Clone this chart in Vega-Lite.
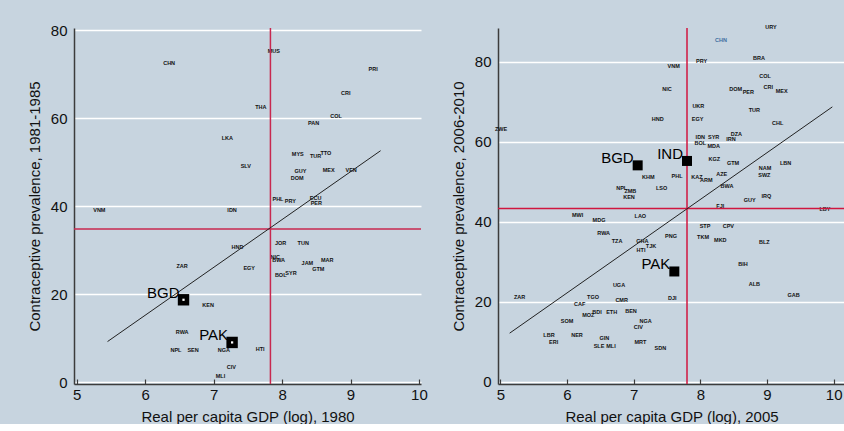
{
"$schema":"https://vega.github.io/schema/vega-lite/v6.json",
"background":"#c7d4df",
"padding":{"left":27,"top":23,"right":0,"bottom":0},
"spacing":23,
"config":{
 "view":{"stroke":null},
 "font":"Liberation Sans",
 "axis":{"labelFont":"Liberation Sans","titleFont":"Liberation Sans","labelFontSize":15,"titleFontSize":15,"titleFontWeight":"normal","labelColor":"#111111","titleColor":"#111111","domainColor":"#3c3c3c","domainWidth":1.5,"tickColor":"#3c3c3c","tickWidth":1.2,"labelFlush":false,"labelOverlap":false,"format":"d"},
 "axisX":{"grid":false,"tickSize":-5,"labelPadding":8,"titlePadding":7},
 "axisY":{"grid":true,"gridColor":"#ffffff","gridWidth":1.5,"gridOpacity":1,"ticks":false,"labelPadding":7,"titlePadding":8}
},
"datasets":{
 "p1":[
  {"c":"MUS","x":7.88,"y":75.2},{"c":"CHN","x":6.35,"y":72.5},{"c":"PRI","x":9.33,"y":71.2},{"c":"CRI","x":8.93,"y":65.8},
  {"c":"THA","x":7.69,"y":62.5},{"c":"COL","x":8.79,"y":60.6},{"c":"PAN","x":8.46,"y":58.8},{"c":"LKA","x":7.2,"y":55.5},
  {"c":"SLV","x":7.47,"y":49.2},{"c":"MYS","x":8.23,"y":51.9},{"c":"TUR","x":8.49,"y":51.3},{"c":"TTO","x":8.64,"y":52.0},
  {"c":"GUY","x":8.27,"y":47.9},{"c":"DOM","x":8.22,"y":46.5},{"c":"MEX","x":8.68,"y":48.1},{"c":"VEN","x":9.01,"y":48.2},
  {"c":"PHL","x":7.94,"y":41.6},{"c":"PRY","x":8.12,"y":41.2},{"c":"ECU","x":8.49,"y":41.8},{"c":"PER","x":8.5,"y":40.7},
  {"c":"VNM","x":5.33,"y":39.1},{"c":"IDN","x":7.27,"y":39.1},{"c":"HND","x":7.35,"y":30.8},{"c":"JOR","x":7.98,"y":31.6},
  {"c":"TUN","x":8.31,"y":31.6},{"c":"NIC","x":7.9,"y":28.5},{"c":"BWA","x":7.95,"y":27.7},{"c":"JAM","x":8.37,"y":27.1},
  {"c":"MAR","x":8.66,"y":27.8},{"c":"GTM","x":8.53,"y":25.6},{"c":"BOL","x":7.98,"y":24.3},{"c":"SYR","x":8.13,"y":24.9},
  {"c":"EGY","x":7.52,"y":26.0},{"c":"ZAR","x":6.54,"y":26.3},{"c":"KEN","x":6.92,"y":17.5},{"c":"RWA","x":6.54,"y":11.4},
  {"c":"NPL","x":6.45,"y":7.3},{"c":"SEN","x":6.7,"y":7.3},{"c":"NGA","x":7.15,"y":7.3},{"c":"HTI","x":7.68,"y":7.4},
  {"c":"CIV","x":7.26,"y":3.4},{"c":"MLI","x":7.1,"y":1.4}
 ],
 "h1":[{"c":"BGD","x":6.56,"y":18.7},{"c":"PAK","x":7.27,"y":9.0}],
 "m1":[{"x":7.83,"y":34.8}],
 "f1":[{"x":5.45,"y":9.2},{"x":9.44,"y":52.6}],
 "p2":[
  {"c":"URY","x":9.06,"y":88.6},{"c":"CHN","x":8.31,"y":85.3},{"c":"PRY","x":8.02,"y":80.2},{"c":"BRA","x":8.88,"y":81.0},
  {"c":"VNM","x":7.6,"y":78.8},{"c":"NIC","x":7.5,"y":73.2},{"c":"COL","x":8.97,"y":76.4},{"c":"DOM","x":8.53,"y":73.1},
  {"c":"PER","x":8.72,"y":72.3},{"c":"CRI","x":9.02,"y":73.6},{"c":"MEX","x":9.22,"y":72.7},{"c":"UKR","x":7.97,"y":68.8},
  {"c":"TUR","x":8.81,"y":67.9},{"c":"HND","x":7.36,"y":65.8},{"c":"EGY","x":7.96,"y":65.6},{"c":"CHL","x":9.16,"y":64.8},
  {"c":"ZWE","x":5.01,"y":63.2},{"c":"IDN","x":8.0,"y":61.2},{"c":"SYR","x":8.2,"y":61.2},{"c":"IRN","x":8.46,"y":60.8},
  {"c":"DZA","x":8.54,"y":61.9},{"c":"BOL","x":8.0,"y":59.6},{"c":"MDA","x":8.2,"y":58.9},{"c":"KGZ","x":8.21,"y":55.6},
  {"c":"GTM","x":8.49,"y":54.7},{"c":"NAM","x":8.97,"y":53.5},{"c":"LBN","x":9.28,"y":54.7},{"c":"SWZ","x":8.96,"y":51.6},
  {"c":"KHM","x":7.22,"y":51.2},{"c":"PHL","x":7.65,"y":51.5},{"c":"KAZ","x":7.95,"y":51.2},{"c":"ARM","x":8.09,"y":50.5},
  {"c":"AZE","x":8.32,"y":51.9},{"c":"BWA","x":8.4,"y":48.9},{"c":"NPL","x":6.82,"y":48.5},{"c":"ZMB","x":6.95,"y":47.7},
  {"c":"KEN","x":6.93,"y":46.2},{"c":"LSO","x":7.42,"y":48.5},{"c":"GUY","x":8.74,"y":45.4},{"c":"IRQ","x":8.99,"y":46.4},
  {"c":"FJI","x":8.3,"y":43.9},{"c":"LBY","x":9.87,"y":43.1},{"c":"MWI","x":6.16,"y":41.6},{"c":"MDG","x":6.48,"y":40.5},
  {"c":"LAO","x":7.1,"y":41.4},{"c":"STP","x":8.07,"y":38.9},{"c":"CPV","x":8.42,"y":38.9},{"c":"RWA","x":6.55,"y":37.2},
  {"c":"TZA","x":6.75,"y":35.1},{"c":"GHA","x":7.13,"y":35.2},{"c":"HTI","x":7.11,"y":33.0},{"c":"TJK","x":7.26,"y":33.9},
  {"c":"PNG","x":7.56,"y":36.4},{"c":"TKM","x":8.04,"y":36.2},{"c":"MKD","x":8.3,"y":35.5},{"c":"BLZ","x":8.96,"y":34.9},
  {"c":"BIH","x":8.64,"y":29.5},{"c":"ALB","x":8.81,"y":24.5},{"c":"GAB","x":9.4,"y":21.7},{"c":"DJI","x":7.58,"y":20.9},
  {"c":"UGA","x":6.78,"y":24.3},{"c":"ZAR","x":5.29,"y":21.3},{"c":"TGO","x":6.39,"y":21.3},{"c":"CMR","x":6.82,"y":20.5},
  {"c":"CAF","x":6.19,"y":19.6},{"c":"MOZ","x":6.32,"y":16.8},{"c":"BDI","x":6.45,"y":17.6},{"c":"ETH","x":6.67,"y":17.6},
  {"c":"BEN","x":6.96,"y":17.8},{"c":"SOM","x":6.0,"y":15.3},{"c":"NGA","x":7.18,"y":15.3},{"c":"CIV","x":7.07,"y":13.8},
  {"c":"LBR","x":5.73,"y":11.8},{"c":"NER","x":6.15,"y":11.8},{"c":"ERI","x":5.8,"y":9.9},{"c":"GIN","x":6.56,"y":10.9},
  {"c":"SLE","x":6.48,"y":9.0},{"c":"MLI","x":6.66,"y":9.0},{"c":"MRT","x":7.1,"y":10.1},{"c":"SDN","x":7.4,"y":8.4}
 ],
 "h2":[{"c":"BGD","x":7.06,"y":54.1},{"c":"IND","x":7.8,"y":55.2},{"c":"PAK","x":7.61,"y":27.6}],
 "m2":[{"x":7.8,"y":43.3}],
 "f2":[{"x":5.14,"y":12.2},{"x":9.98,"y":68.7}]
},
"hconcat":[
 {
  "width":347,"height":356,
  "layer":[
   {"data":{"name":"p1"},"mark":{"type":"text","fontSize":5.5,"fontWeight":"bold","font":"Liberation Sans","color":"#111111"},
    "encoding":{
     "x":{"field":"x","type":"quantitative","title":"Real per capita GDP (log), 1980","scale":{"domain":[4.96,10.03],"nice":false,"zero":false},"axis":{"values":[5,6,7,8,9,10]}},
     "y":{"field":"y","type":"quantitative","title":"Contraceptive prevalence, 1981-1985","scale":{"domain":[-0.45,80.5],"nice":false,"zero":false},"axis":{"values":[0,20,40,60,80]}},
     "text":{"field":"c"}}},
   {"data":{"name":"m1"},"mark":{"type":"rule","color":"#c8284f","strokeWidth":1.5},
    "encoding":{"x":{"field":"x","type":"quantitative","title":"Real per capita GDP (log), 1980"}}},
   {"data":{"name":"m1"},"mark":{"type":"rule","color":"#c8284f","strokeWidth":1.5},
    "encoding":{"y":{"field":"y","type":"quantitative","title":"Contraceptive prevalence, 1981-1985"}}},
   {"data":{"name":"f1"},"mark":{"type":"line","color":"#222222","strokeWidth":1},
    "encoding":{"x":{"field":"x","type":"quantitative","title":"Real per capita GDP (log), 1980"},"y":{"field":"y","type":"quantitative","title":"Contraceptive prevalence, 1981-1985"}}},
   {"data":{"name":"h1"},"mark":{"type":"point","shape":"square","filled":true,"color":"#000000","opacity":1,"size":130},
    "encoding":{"x":{"field":"x","type":"quantitative","title":"Real per capita GDP (log), 1980"},"y":{"field":"y","type":"quantitative","title":"Contraceptive prevalence, 1981-1985"}}},
   {"data":{"name":"h1"},"mark":{"type":"point","shape":"square","filled":true,"color":"#ffffff","opacity":1,"size":5},
    "encoding":{"x":{"field":"x","type":"quantitative","title":"Real per capita GDP (log), 1980"},"y":{"field":"y","type":"quantitative","title":"Contraceptive prevalence, 1981-1985"}}},
   {"data":{"name":"h1"},"mark":{"type":"text","fontSize":15,"font":"Liberation Sans","color":"#000000","align":"right","baseline":"alphabetic","dx":-4,"dy":-2},
    "encoding":{"x":{"field":"x","type":"quantitative","title":"Real per capita GDP (log), 1980"},"y":{"field":"y","type":"quantitative","title":"Contraceptive prevalence, 1981-1985"},"text":{"field":"c"}}}
  ]
 },
 {
  "width":347,"height":356,
  "layer":[
   {"data":{"name":"p2"},"mark":{"type":"text","fontSize":5.5,"fontWeight":"bold","font":"Liberation Sans"},
    "encoding":{
     "x":{"field":"x","type":"quantitative","title":"Real per capita GDP (log), 2005","scale":{"domain":[4.965,10.17],"nice":false,"zero":false},"axis":{"values":[5,6,7,8,9,10]}},
     "y":{"field":"y","type":"quantitative","title":"Contraceptive prevalence, 2006-2010","scale":{"domain":[-0.5,88.4],"nice":false,"zero":false},"axis":{"values":[0,20,40,60,80]}},
     "text":{"field":"c"},
     "color":{"condition":{"test":"datum.c === 'CHN'","value":"#3f6f9f"},"value":"#111111"}}},
   {"data":{"name":"m2"},"mark":{"type":"rule","color":"#d0163f","strokeWidth":1.5},
    "encoding":{"x":{"field":"x","type":"quantitative","title":"Real per capita GDP (log), 2005"}}},
   {"data":{"name":"m2"},"mark":{"type":"rule","color":"#d0163f","strokeWidth":1.5},
    "encoding":{"y":{"field":"y","type":"quantitative","title":"Contraceptive prevalence, 2006-2010"}}},
   {"data":{"name":"f2"},"mark":{"type":"line","color":"#222222","strokeWidth":1},
    "encoding":{"x":{"field":"x","type":"quantitative","title":"Real per capita GDP (log), 2005"},"y":{"field":"y","type":"quantitative","title":"Contraceptive prevalence, 2006-2010"}}},
   {"data":{"name":"h2"},"mark":{"type":"point","shape":"square","filled":true,"color":"#000000","opacity":1,"size":100},
    "encoding":{"x":{"field":"x","type":"quantitative","title":"Real per capita GDP (log), 2005"},"y":{"field":"y","type":"quantitative","title":"Contraceptive prevalence, 2006-2010"}}},
   {"data":{"name":"h2"},"mark":{"type":"text","fontSize":15,"font":"Liberation Sans","color":"#000000","align":"right","baseline":"alphabetic","dx":-4,"dy":-2},
    "encoding":{"x":{"field":"x","type":"quantitative","title":"Real per capita GDP (log), 2005"},"y":{"field":"y","type":"quantitative","title":"Contraceptive prevalence, 2006-2010"},"text":{"field":"c"}}}
  ]
 }
]
}
